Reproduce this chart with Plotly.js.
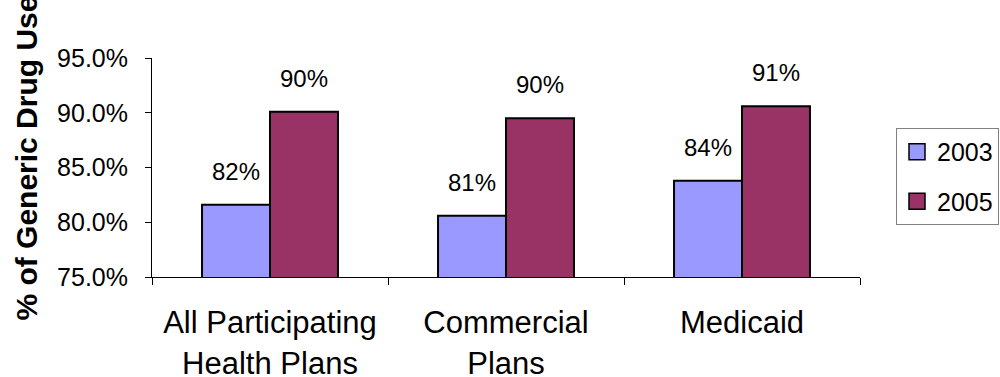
<!DOCTYPE html>
<html>
<head>
<meta charset="utf-8">
<script src="https://cdn.plot.ly/plotly-3.0.1.min.js"></script>
<style>html,body{margin:0;padding:0;background:#fff;}#chart{width:1000px;height:377px;}</style>
</head>
<body>
<div id="chart"></div>
<script>
var categories = ["All Participating<br>Health Plans", "Commercial<br>Plans", "Medicaid"];
var seriesNames = ["2003", "2005"];
var values2003 = [81.6, 80.6, 83.8];
var values2005 = [90.1, 89.5, 90.6];
var yTickValues = [75, 80, 85, 90, 95];
var yTickLabels = ["75.0%", "80.0%", "85.0%", "90.0%", "95.0%"];
var yTitle = "% of Generic Drug Use";

var FONT = "Liberation Sans, Arial, sans-serif";
var colors = ["#9999FF", "#993366"];
var allSeries = [values2003, values2005];

var traces = allSeries.map(function (vals, i) {
  return {
    type: "bar",
    name: seriesNames[i],
    x: categories,
    y: vals,
    marker: { color: colors[i], line: { color: "#000", width: 2 } },
    showlegend: false,
    hoverinfo: "none"
  };
});
// legend entries (square swatches like the reference)
allSeries.forEach(function (vals, i) {
  traces.push({
    type: "scatter", mode: "markers", name: seriesNames[i],
    legendgroup: "g" + i,
    x: [categories[0]], y: [null],
    marker: { symbol: "square", size: 16, color: colors[i], line: { color: "#000", width: 1.5 } },
    hoverinfo: "none"
  });
});

var annotations = [];
allSeries.forEach(function (vals, i) {
  vals.forEach(function (v, j) {
    annotations.push({
      xref: "x", yref: "y", x: categories[j], y: v,
      xshift: (i === 0 ? -34 : 34), yshift: 18,
      text: Math.round(v) + "%", showarrow: false,
      xanchor: "center", yanchor: "bottom",
      font: { family: FONT, size: 24, color: "#000" }
    });
  });
});
annotations.push({
  xref: "paper", yref: "paper", x: -0.1766, y: 0.545,
  text: "<b>" + yTitle + "</b>", textangle: -90, showarrow: false,
  xanchor: "center", yanchor: "middle",
  font: { family: FONT, size: 30, color: "#000" }
});

var layout = {
  width: 1000, height: 377,
  margin: { l: 152, r: 140, t: 57.5, b: 99.5, pad: 0 },
  paper_bgcolor: "#fff", plot_bgcolor: "#fff",
  bargap: 0.424, bargroupgap: 0,
  barmode: "group",
  showlegend: true,
  legend: {
    xref: "container", yref: "container",
    x: 0.896, y: 0.6605, xanchor: "left", yanchor: "top",
    bordercolor: "#808080", borderwidth: 1, bgcolor: "#fff",
    font: { family: FONT, size: 25, color: "#000" },
    traceorder: "grouped", tracegroupgap: 14, itemsizing: "trace",
    entrywidth: 110, entrywidthmode: "pixels"
  },
  xaxis: {
    type: "category",
    showline: true, linecolor: "#000", linewidth: 1,
    ticks: "outside", tickson: "boundaries", ticklen: 7, tickcolor: "#000", tickwidth: 1,
    showgrid: false, zeroline: false,
    tickfont: { family: FONT, size: 31, color: "#000" },
    ticklabelstandoff: 18,
    fixedrange: true
  },
  yaxis: {
    range: [75, 95],
    tickvals: yTickValues, ticktext: yTickLabels,
    showline: true, linecolor: "#000", linewidth: 1,
    ticks: "outside", ticklen: 6, tickcolor: "#000", tickwidth: 1,
    showgrid: false, zeroline: false,
    tickfont: { family: FONT, size: 25, color: "#000" },
    ticklabelstandoff: 12,
    fixedrange: true
  },
  annotations: annotations
};

Plotly.newPlot("chart", traces, layout, { staticPlot: true, displayModeBar: false });
</script>
</body>
</html>
